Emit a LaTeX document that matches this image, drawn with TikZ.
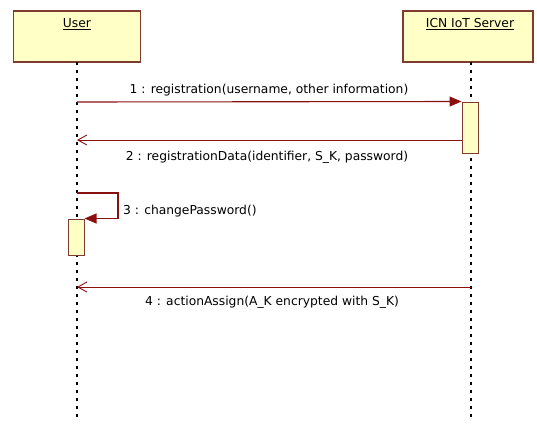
\documentclass[tikz,border=0pt]{standalone}
\usepackage{fontspec}
\setmainfont{DejaVu Sans}
\usetikzlibrary{arrows.meta}
\definecolor{boxfill}{HTML}{FFFFC6}
\definecolor{boxline}{HTML}{7F3B2E}
\definecolor{msgred}{HTML}{8A1010}
\tikzset{
  lifebox/.style={draw=boxline, line width=1.1pt, fill=boxfill, minimum width=127pt,
    minimum height=51pt, inner sep=0pt},
  actbox/.style={draw=boxline, line width=1pt, fill=boxfill, minimum width=16pt, inner sep=0pt},
  lifeline/.style={line width=1.2pt, dash pattern=on 3pt off 5pt},
  callmsg/.style={draw=msgred, line width=1.1pt, -{Triangle[length=12pt,width=10pt,fill=msgred]}},
  replymsg/.style={draw=msgred, line width=0.9pt, -{Straight Barb[length=9pt,width=10pt]}},
  lbl/.style={font=\fontsize{12.3}{14}\selectfont, inner sep=1pt},
  title/.style={font=\fontsize{12.3}{14}\selectfont, inner sep=1pt}
}
\begin{document}
\begin{tikzpicture}[x=1pt, y=-1pt]
  \useasboundingbox (0,0) rectangle (537,423);

  % participant heads
  \node[lifebox] (user) at (77,36.5) {};
  \node[title] (usert) at (77,24) {\underline{User}};
  \node[lifebox, minimum width=130pt] (srv) at (468,36.5) {};
  \node[title] (srvt) at (470,24) {\underline{ICN IoT Server}};

  % lifelines
  \coordinate (uend) at (77,419);
  \coordinate (send) at (471,419);
  \draw[lifeline] (77,62) -- (uend);
  \draw[lifeline] (471,62) -- (send);

  % activation bars
  \node[actbox, minimum height=51pt] (a1) at (470,127.5) {};
  \node[actbox, minimum height=36pt] (a2) at (76,237) {};

  % 1: registration
  \coordinate (u1) at (77,102);
  \draw[callmsg] (u1) -- (a1.north west);
  \node[lbl] (l1) at (269,90) {1 : registration(username, other information)};

  % 2: registrationData
  \coordinate (s2) at (462,140);
  \coordinate (u2) at (77,140);
  \draw[replymsg] (s2) -- (u2);
  \node[lbl] (l2) at (267,157) {2 : registrationData(identifier, S\_K, password)};

  % 3: changePassword (self call)
  \coordinate (u3) at (77,193);
  \draw[callmsg] (u3) -- ++(41,0) |- (a2.north east);
  \node[lbl, anchor=west] (l3) at (122,211) {3 : changePassword()};

  % 4: actionAssign
  \coordinate (s4) at (471,287);
  \coordinate (u4) at (77,287);
  \draw[replymsg] (s4) -- (u4);
  \node[lbl] (l4) at (272,302) {4 : actionAssign(A\_K encrypted with S\_K)};
\end{tikzpicture}
\end{document}
